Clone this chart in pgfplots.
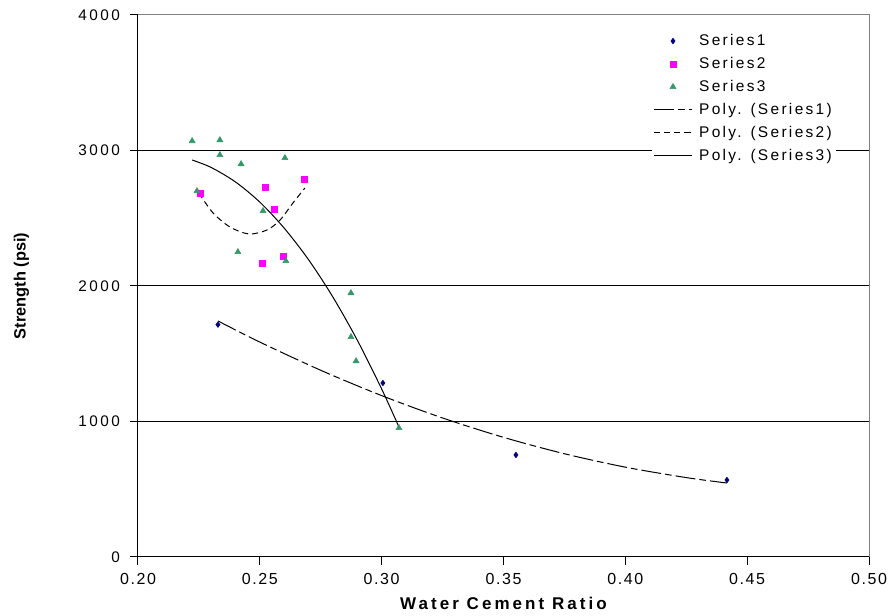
\documentclass[border=0pt]{standalone}
\usepackage{pgfplots}
\pgfplotsset{compat=1.18}
\usepackage{fontspec}
\setmainfont{Liberation Sans}
\newfontfamily\tickfont[LetterSpace=10]{Liberation Sans}
\newfontfamily\ytickfont[LetterSpace=16]{Liberation Sans}
\newfontfamily\legfont[LetterSpace=15]{Liberation Sans}
\newfontfamily\xlabfont[LetterSpace=18]{Liberation Sans}
\definecolor{sone}{RGB}{0,0,128}
\definecolor{stwo}{RGB}{255,0,255}
\definecolor{sthree}{RGB}{51,153,102}
\begin{document}
\begin{tikzpicture}
\begin{axis}[
  scale only axis,
  width=548.25pt, height=406.5pt,
  xmin=0.2, xmax=0.5, ymin=0, ymax=4000,
  xtick={0.2,0.25,0.3,0.35,0.4,0.45,0.5},
  ytick={0,1000,2000,3000,4000},
  axis lines=left,
  axis line style={-, black, line width=0.75pt},
  tick align=outside,
  major tick length=6pt,
  tick style={black, line width=0.75pt},
  ymajorgrids,
  grid style={black, line width=0.75pt},
  x tick label style={font=\tickfont\fontsize{12}{14}\selectfont, yshift=-3pt, /pgf/number format/.cd, fixed, fixed zerofill, precision=2, assume math mode=true},
  y tick label style={font=\ytickfont\fontsize{11.5}{14}\selectfont, xshift=-4pt, /pgf/number format/.cd, 1000 sep={}, assume math mode=true},
  xlabel={\xlabfont\bfseries\fontsize{12.75}{14}\selectfont Water Cement Ratio},
  xlabel style={yshift=-2pt},
  ylabel={\bfseries\fontsize{12.25}{14}\selectfont Strength (psi)},
  ylabel style={at={(rel axis cs:-0.1594,0.5)}, anchor=center},
  legend cell align=left,
  legend style={draw=none, fill=white, at={(rel axis cs:0.703,0.972)}, anchor=north west,
    font=\legfont\fontsize{11.6}{13}\selectfont, row sep=3.3pt, column sep=3pt, inner sep=1pt},
  legend image code/.code={\draw[mark repeat=2,mark phase=2,#1] plot coordinates {(0pt,0pt)(14.25pt,0pt)(28.5pt,0pt)};},
  clip=false,
]
\addplot[only marks, mark=diamond*, mark size=2.1pt, color=sone] coordinates {
(0.2328,1715) (0.3005,1284) (0.3551,753) (0.4417,568)};
\addlegendentry{Series1}
\addplot[only marks, mark=square*, mark size=2.3pt, color=stwo] coordinates {
(0.2254,2686) (0.2521,2731) (0.2681,2790) (0.2558,2568) (0.2595,2221) (0.2509,2170)};
\addlegendentry{Series2}
\addplot[only marks, mark=triangle*, mark size=2.6pt, color=sthree] coordinates {
(0.2222,3070) (0.2336,3077) (0.2336,2967) (0.2423,2900) (0.2603,2945) (0.2242,2701)
(0.2513,2554) (0.2410,2251) (0.2607,2185) (0.2874,1948) (0.2874,1624) (0.2895,1446) (0.3071,952)};
\addlegendentry{Series3}
\addplot[black, line width=0.75pt, smooth, dash pattern=on 15pt off 3pt on 5pt off 3pt] coordinates {
(0.2328,1742) (0.25,1586) (0.275,1378) (0.30,1191) (0.325,1026) (0.35,883) (0.375,762) (0.40,663) (0.425,586) (0.4417,546)};
\addlegendentry{Poly. (Series1)}
\addplot[black, line width=0.75pt, smooth, dash pattern=on 4.5pt off 3pt] coordinates {
(0.2250,2686) (0.2308,2539) (0.2378,2435) (0.2455,2384) (0.2529,2413) (0.2583,2487) (0.2636,2613) (0.2685,2723)};
\addlegendentry{Poly. (Series2)}
\addplot[black, line width=0.75pt, smooth] coordinates {
(0.2222,2930) (0.23,2875) (0.24,2768) (0.25,2619) (0.26,2427) (0.27,2194) (0.28,1918) (0.29,1600) (0.30,1240) (0.3071,959)};
\addlegendentry{Poly. (Series3)}
\draw[gray, line width=0.75pt] (rel axis cs:0,1) -- (rel axis cs:1,1) -- (rel axis cs:1,0);
\end{axis}
\pgfresetboundingbox
\path (current axis.south west) ++(-103.5pt,-44.25pt) coordinate (bbA);
\path (current axis.north east) ++(15pt,11.25pt) coordinate (bbB);
\useasboundingbox (bbA) rectangle (bbB);
\end{tikzpicture}
\end{document}
